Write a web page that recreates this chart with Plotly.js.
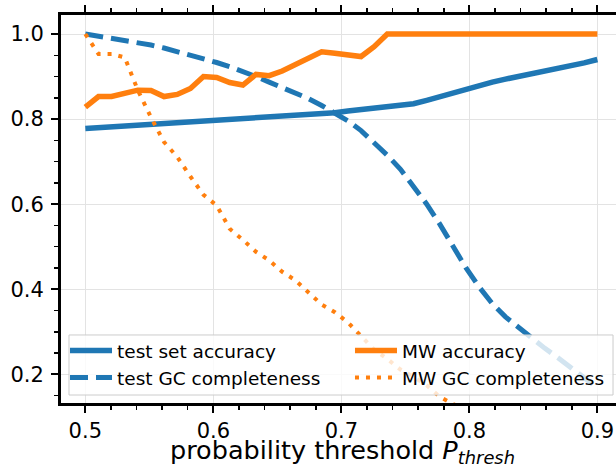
<!DOCTYPE html>
<html>
<head>
<meta charset="utf-8">
<script src="https://cdn.plot.ly/plotly-3.0.1.min.js"></script>
<style>
  html, body { margin: 0; padding: 0; overflow: hidden; background: #fff; }
  #chart { width: 626px; height: 468px; }
</style>
</head>
<body>
<div id="chart"></div>
<script>
// probability threshold values (40 thresholds between 0.5 and 0.9)
const thresholds = [0.5, 0.5103, 0.5205, 0.5308, 0.5410, 0.5513, 0.5615, 0.5718, 0.5821, 0.5923,
  0.6026, 0.6128, 0.6231, 0.6333, 0.6436, 0.6538, 0.6641, 0.6744, 0.6846, 0.6949,
  0.7051, 0.7154, 0.7256, 0.7359, 0.7462, 0.7564, 0.7667, 0.7769, 0.7872, 0.7974,
  0.8077, 0.8179, 0.8282, 0.8385, 0.8487, 0.8590, 0.8692, 0.8795, 0.8897, 0.9];

const testSetAccuracy = [0.778, 0.780, 0.781, 0.783, 0.784, 0.786, 0.787, 0.789, 0.791, 0.793,
  0.795, 0.797, 0.799, 0.801, 0.803, 0.805, 0.807, 0.809, 0.812, 0.815,
  0.819, 0.822, 0.825, 0.827, 0.831, 0.836, 0.844, 0.853, 0.863, 0.872,
  0.880, 0.887, 0.894, 0.900, 0.907, 0.913, 0.919, 0.925, 0.932, 0.940];

const testGCCompleteness = [1.000, 0.995, 0.989, 0.984, 0.979, 0.974, 0.967, 0.959, 0.951, 0.942,
  0.933, 0.923, 0.912, 0.900, 0.887, 0.874, 0.862, 0.848, 0.832, 0.815,
  0.796, 0.773, 0.745, 0.715, 0.682, 0.643, 0.600, 0.553, 0.500, 0.450,
  0.405, 0.366, 0.335, 0.309, 0.285, 0.261, 0.239, 0.216, 0.192, 0.168];

const mwAccuracy = [0.828, 0.853, 0.853, 0.861, 0.868, 0.867, 0.853, 0.858, 0.872, 0.900,
  0.898, 0.886, 0.880, 0.905, 0.902, 0.913, 0.928, 0.943, 0.958, 0.955,
  0.952, 0.947, 0.970, 1.000, 1.000, 1.000, 1.000, 1.000, 1.000, 1.000,
  1.000, 1.000, 1.000, 1.000, 1.000, 1.000, 1.000, 1.000, 1.000, 1.000];

const mwGCCompleteness = [1.000, 0.953, 0.953, 0.945, 0.868, 0.804, 0.746, 0.711, 0.665, 0.622,
  0.597, 0.542, 0.516, 0.488, 0.468, 0.441, 0.421, 0.393, 0.364, 0.346,
  0.322, 0.290, 0.258, 0.236, 0.211, 0.194, 0.174, 0.147, 0.130, 0.118,
  0.100, 0.085, 0.070, 0.060, 0.050, 0.040, 0.030, 0.025, 0.020, 0.015];

const seriesNames = ['test set accuracy', 'test GC completeness', 'MW accuracy', 'MW GC completeness'];

const BLUE = '#1f77b4', ORANGE = '#ff7f0e';

const traces = [
  { x: thresholds, y: testSetAccuracy, name: seriesNames[0], legend: 'legend', legendgroup: 'a',
    mode: 'lines', line: { color: BLUE, width: 5.5 } },
  { x: thresholds, y: testGCCompleteness, name: seriesNames[1], legend: 'legend', legendgroup: 'b',
    mode: 'lines', line: { color: BLUE, width: 5, dash: '18px,8px' } },
  { x: thresholds, y: mwAccuracy, name: seriesNames[2], legend: 'legend2', legendgroup: 'c',
    mode: 'lines', line: { color: ORANGE, width: 5.5 } },
  { x: thresholds, y: mwGCCompleteness, name: seriesNames[3], legend: 'legend2', legendgroup: 'd',
    mode: 'lines', line: { color: ORANGE, width: 4, dash: '4px,7px' } }
];

const tickFont = { family: 'DejaVu Sans', size: 21, color: '#000' };
const legendFont = { family: 'DejaVu Sans', size: 18.5, color: '#000' };

const legendCommon = {
  orientation: 'v', traceorder: 'normal', yanchor: 'top', xanchor: 'left',
  bgcolor: 'rgba(0,0,0,0)', borderwidth: 0,
  font: legendFont, itemwidth: 42, tracegroupgap: 0
};

const layout = {
  width: 626, height: 468,
  margin: { l: 61, r: 2, t: 15, b: 65 },
  paper_bgcolor: '#fff', plot_bgcolor: '#fff',
  font: { family: 'DejaVu Sans', color: '#000' },
  showlegend: true,
  legend: Object.assign({}, legendCommon, { x: 0.0071, y: 0.183 }),
  legend2: Object.assign({}, legendCommon, { x: 0.5133, y: 0.183 }),
  shapes: [{
    type: 'rect', xref: 'paper', yref: 'paper', layer: 'above',
    x0: 0.0142, x1: 0.9805, y0: 0.0206, y1: 0.1753,
    fillcolor: 'rgba(255,255,255,0.8)', line: { color: '#cccccc', width: 1 }
  }],
  xaxis: {
    range: [0.481, 0.9208], tick0: 0.5, dtick: 0.1, tickformat: '.1f',
    showline: true, linecolor: '#000', linewidth: 3, mirror: 'allticks',
    ticks: 'outside', ticklen: 7, tickwidth: 2, tickcolor: '#000',
    showgrid: true, gridcolor: '#e3e3e3', gridwidth: 1,
    zeroline: false, tickfont: tickFont,
    minor: { dtick: 0.02, tick0: 0.5, ticks: 'outside', ticklen: 4, tickwidth: 1.5, tickcolor: '#000', showgrid: false },
    title: { text: 'probability threshold <i>P</i><sub><i>thresh</i></sub>', font: { family: 'DejaVu Sans', size: 25.5, color: '#000' }, standoff: 11 }
  },
  yaxis: {
    range: [0.1325, 1.0447], tick0: 0.2, dtick: 0.2, tickformat: '.1f',
    showline: true, linecolor: '#000', linewidth: 3, mirror: 'allticks',
    ticks: 'outside', ticklen: 7, tickwidth: 2, tickcolor: '#000',
    showgrid: true, gridcolor: '#e3e3e3', gridwidth: 1,
    zeroline: false, tickfont: tickFont, ticklabelstandoff: 3,
    minor: { dtick: 0.05, tick0: 0.2, ticks: 'outside', ticklen: 4, tickwidth: 1.5, tickcolor: '#000', showgrid: false }
  }
};

Plotly.newPlot('chart', traces, layout, { staticPlot: true, displayModeBar: false });
</script>
</body>
</html>
